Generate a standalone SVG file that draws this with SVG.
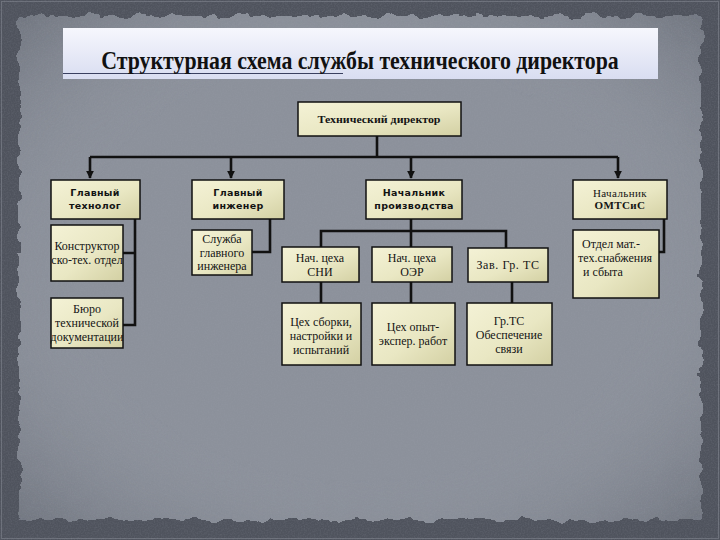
<svg xmlns="http://www.w3.org/2000/svg" width="720" height="540" viewBox="0 0 720 540">
<defs>
  <style>
    .box{fill:url(#boxg);stroke:#111;stroke-width:1.5}
    .con{fill:none;stroke:#111;stroke-width:2.6;stroke-linejoin:miter}
    .t{font-family:"Liberation Serif","Times New Roman",serif;font-size:12px;fill:#141414;text-anchor:middle}
    .l{text-anchor:start}
    .tb{font-family:"DejaVu Sans","Liberation Sans",sans-serif;font-size:9.5px;font-weight:bold;fill:#141414;text-anchor:middle;letter-spacing:0.3px}
    .ts{font-family:"Liberation Serif","Times New Roman",serif;font-size:11px;fill:#141414;letter-spacing:0.4px;text-anchor:middle}
    .title{font-family:"Liberation Serif","Times New Roman",serif;font-size:26px;font-weight:bold;fill:#111;text-anchor:middle}
    .td{font-family:"Liberation Serif","Times New Roman",serif;font-size:10.5px;font-weight:bold;fill:#141414;text-anchor:middle}
  </style>
  <linearGradient id="boxg" x1="0" y1="0" x2="1" y2="1">
    <stop offset="0" stop-color="#f4f2d6"/>
    <stop offset="0.55" stop-color="#e9e7c3"/>
    <stop offset="1" stop-color="#d3d0a3"/>
  </linearGradient>
  <linearGradient id="titleg" x1="0" y1="0" x2="0" y2="1">
    <stop offset="0" stop-color="#f6f7fd"/>
    <stop offset="1" stop-color="#d9ddf1"/>
  </linearGradient>
  <radialGradient id="vig" cx="0.5" cy="0.5" r="0.7">
    <stop offset="0.6" stop-color="#8f949e" stop-opacity="0"/>
    <stop offset="1" stop-color="#5e636d" stop-opacity="0.55"/>
  </radialGradient>
  <filter id="torn" x="-5%" y="-5%" width="110%" height="110%">
    <feTurbulence type="fractalNoise" baseFrequency="0.06" numOctaves="3" seed="7" result="n"/>
    <feDisplacementMap in="SourceGraphic" in2="n" scale="12" xChannelSelector="R" yChannelSelector="G"/>
  </filter>
  <filter id="grain" x="0" y="0" width="100%" height="100%">
    <feTurbulence type="fractalNoise" baseFrequency="0.7" numOctaves="2" seed="4"/>
    <feColorMatrix type="matrix" values="0 0 0 0 0.35  0 0 0 0 0.37  0 0 0 0 0.43  0.6 0 0 0 -0.22"/>
  </filter>
  <marker id="arr" viewBox="0 0 10 10" refX="9" refY="5" markerWidth="3" markerHeight="3" orient="auto" markerUnits="strokeWidth">
    <path d="M0,0 L10,5 L0,10 z" fill="#111"/>
  </marker>
</defs>

<!-- background -->
<rect x="0" y="0" width="720" height="540" fill="#4f535d"/>
<rect x="1.5" y="1.5" width="717" height="537" fill="none" stroke="#6c707a" stroke-width="1"/>
<rect x="19" y="16" width="682" height="504" fill="#8c919b" filter="url(#torn)"/>
<rect x="19" y="16" width="682" height="504" fill="url(#vig)" filter="url(#torn)"/>
<rect x="0" y="0" width="720" height="540" filter="url(#grain)" opacity="0.5"/>

<!-- title -->
<g id="title">
  <rect x="63" y="28" width="595" height="51" fill="url(#titleg)"/>
  <line x1="63" y1="73.5" x2="343" y2="73.5" stroke="#3a4060" stroke-width="1"/>
  <text class="title" transform="translate(360,69) scale(0.84,1)" x="0" y="0">Структурная схема службы технического директора</text>
</g>

<!-- connectors -->
<g id="connectors">
  <path class="con" d="M377,136 V157"/>
  <path class="con" d="M90,157 H618"/>
  <path class="con" d="M90,157 V178" marker-end="url(#arr)"/>
  <path class="con" d="M231,157 V178" marker-end="url(#arr)"/>
  <path class="con" d="M411,157 V178" marker-end="url(#arr)"/>
  <path class="con" d="M618,157 V178" marker-end="url(#arr)"/>
  <path class="con" d="M135,219 V325 H123 M135,253 H123"/>
  <path class="con" d="M270,219 V252 H252"/>
  <path class="con" d="M411,219 V247 M321,247 V231 H506 V248"/>
  <path class="con" d="M321,282 V303"/>
  <path class="con" d="M411,282 V303"/>
  <path class="con" d="M512,282 V303"/>
  <path class="con" d="M664,219 V252 H659"/>
</g>

<!-- nodes -->
<g id="n-techdir">
  <rect class="box" x="298" y="102" width="163" height="34"/>
  <text class="td" x="379" y="123" textLength="123" lengthAdjust="spacingAndGlyphs">Технический директор</text>
</g>
<g id="n-glavtech">
  <rect class="box" x="51" y="180" width="89" height="39"/>
  <text class="tb" x="95" y="196">Главный</text>
  <text class="tb" x="95" y="209">технолог</text>
</g>
<g id="n-glaving">
  <rect class="box" x="192" y="180" width="92" height="39"/>
  <text class="tb" x="238" y="196">Главный</text>
  <text class="tb" x="238" y="209">инженер</text>
</g>
<g id="n-nachprod">
  <rect class="box" x="366" y="180" width="96" height="39"/>
  <text class="tb" x="414" y="196">Начальник</text>
  <text class="tb" x="414" y="209">производства</text>
</g>
<g id="n-nachomts">
  <rect class="box" x="573" y="180" width="94" height="39"/>
  <text class="ts" x="620" y="197">Начальник</text>
  <text class="ts" x="620" y="209" style="font-weight:bold">ОМТСиС</text>
</g>
<g id="n-konstr">
  <rect class="box" x="51" y="225" width="72" height="56"/>
  <text class="t" x="87" y="250">Конструктор</text>
  <text class="t" x="87" y="264">ско-тех. отдел</text>
</g>
<g id="n-buro">
  <rect class="box" x="51" y="298" width="72" height="50"/>
  <text class="t" x="87" y="313">Бюро</text>
  <text class="t" x="87" y="327">технической</text>
  <text class="t" x="87" y="341">документации</text>
</g>
<g id="n-sluzhba">
  <rect class="box" x="192" y="230" width="60" height="45"/>
  <text class="t" x="222" y="243">Служба</text>
  <text class="t" x="222" y="257">главного</text>
  <text class="t" x="222" y="270">инженера</text>
</g>
<g id="n-sni">
  <rect class="box" x="282" y="247" width="77" height="35"/>
  <text class="t" x="320" y="262">Нач. цеха</text>
  <text class="t" x="320" y="276">СНИ</text>
</g>
<g id="n-oer">
  <rect class="box" x="372" y="247" width="80" height="35"/>
  <text class="t" x="412" y="262">Нач. цеха</text>
  <text class="t" x="412" y="276">ОЭР</text>
</g>
<g id="n-zavgr">
  <rect class="box" x="468" y="248" width="80" height="34"/>
  <text class="t" x="508" y="269" style="letter-spacing:0.6px">Зав. Гр. ТС</text>
</g>
<g id="n-otdel">
  <rect class="box" x="573" y="230" width="86" height="68"/>
  <text class="t l" x="582" y="248">Отдел мат.-</text>
  <text class="t l" x="578" y="262">тех.снабжения</text>
  <text class="t l" x="583" y="276">и сбыта</text>
</g>
<g id="n-sborka">
  <rect class="box" x="282" y="303" width="79" height="62"/>
  <text class="t" x="321" y="326">Цех сборки,</text>
  <text class="t" x="321" y="340">настройки и</text>
  <text class="t" x="321" y="354">испытаний</text>
</g>
<g id="n-opyt">
  <rect class="box" x="372" y="303" width="83" height="62"/>
  <text class="t" x="413" y="331">Цех опыт-</text>
  <text class="t" x="413" y="345">экспер. работ</text>
</g>
<g id="n-grts">
  <rect class="box" x="467" y="303" width="85" height="62"/>
  <text class="t" x="509" y="325">Гр.ТС</text>
  <text class="t" x="509" y="339">Обеспечение</text>
  <text class="t" x="509" y="353">связи</text>
</g>
</svg>
